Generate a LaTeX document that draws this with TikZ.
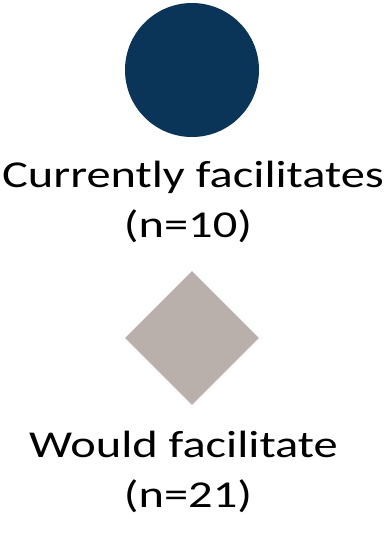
\documentclass[tikz,border=0pt]{standalone}
\usepackage{fontspec}
\setmainfont{Carlito}
\usetikzlibrary{shapes.geometric}
\definecolor{navy}{RGB}{10,52,88}
\definecolor{taupe}{RGB}{185,176,172}
\tikzset{
  label text/.style={anchor=base, inner sep=0pt, font=\fontsize{38}{49.5}\selectfont, text=black, xscale=1.275, transform shape},
}
\begin{document}
\begin{tikzpicture}[x=1pt,y=1pt]
\useasboundingbox (0,0) rectangle (389,-533);
\node[circle, fill=navy, minimum size=134pt, inner sep=0pt] (cur) at (192,-70) {};
\node[diamond, fill=taupe, minimum width=134pt, minimum height=134pt, inner sep=0pt] (would) at (192,-338) {};
\node[label text] (curlabA) at (193,-187.5) {Currently facilitates};
\node[label text] (curlabB) at (188,-237) {(n=10)};
\node[label text] (wouldlabA) at (183.5,-457.5) {Would facilitate};
\node[label text] (wouldlabB) at (188,-507) {(n=21)};
\end{tikzpicture}
\end{document}
